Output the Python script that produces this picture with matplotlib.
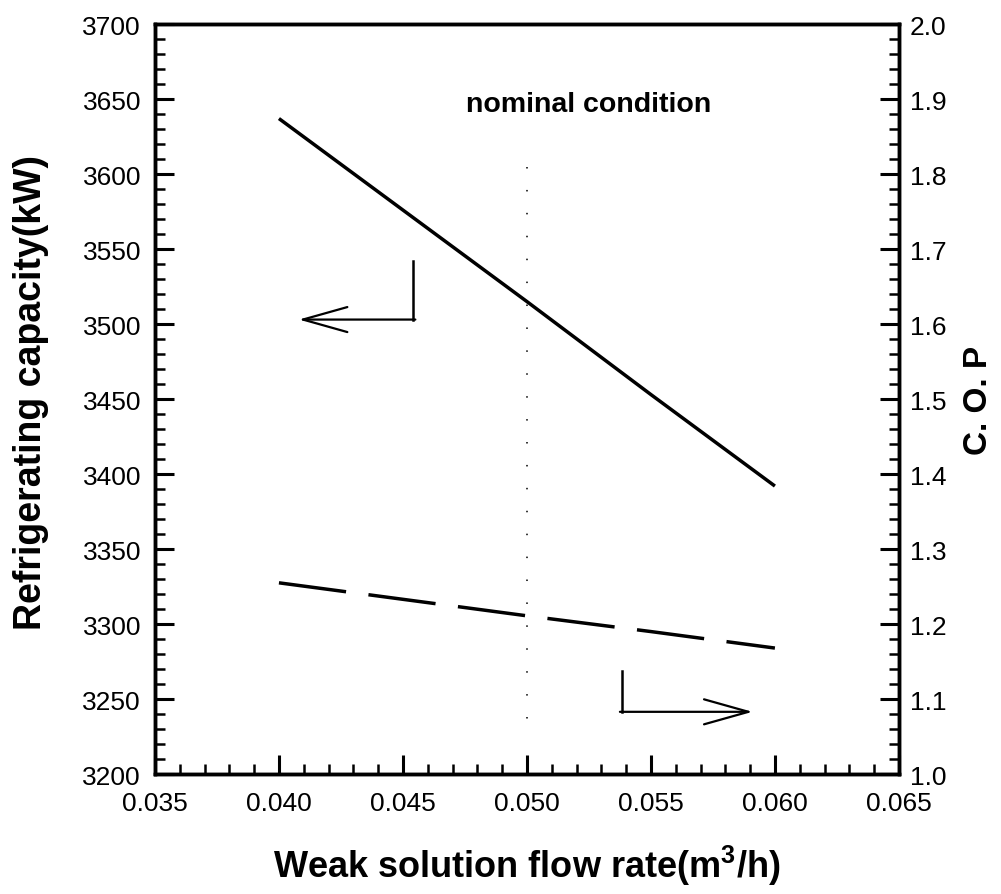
import matplotlib
matplotlib.use("Agg")
import matplotlib.pyplot as plt
from matplotlib.ticker import MultipleLocator, FormatStrFormatter

plt.rcParams['font.family'] = ['Liberation Sans', 'DejaVu Sans']

# data
flow = [0.040, 0.045, 0.050, 0.055, 0.060]
capacity = [3637, 3576, 3515, 3453, 3392]
cop = [1.255, 1.233, 1.211, 1.190, 1.168]
nominal_flow = 0.050

fig = plt.figure(figsize=(10.01, 8.95), dpi=100)
ax = fig.add_axes([0.1548, 0.134, 0.7432, 0.838])
ax2 = ax.twinx()

ax.plot(flow, capacity, color='black', lw=2.5, solid_capstyle='butt')
ax2.plot(flow, cop, color='black', lw=2.5, linestyle=(0, (19.5, 6.5)))

# nominal condition marker
ax.plot([nominal_flow, nominal_flow], [3605, 3233], color='black', lw=1.1,
        linestyle=(0, (1, 14)))
ax.text(0.0525, 3647, 'nominal condition', ha='center', va='center',
        fontsize=20.5, fontweight='bold')

# arrows pointing to each axis
head = '->,head_length=1.6,head_width=0.45'
ax.plot([0.0454, 0.0454], [3542, 3503], color='black', lw=1.8)
ax.annotate('', xy=(0.0408, 3503), xytext=(0.0455, 3503),
            arrowprops=dict(arrowstyle=head, mutation_scale=20,
                            lw=1.6, color='black', shrinkA=0, shrinkB=0),
            annotation_clip=False)
ax2.plot([0.05383, 0.05383], [1.137, 1.083], color='black', lw=1.8)
ax2.annotate('', xy=(0.0591, 1.083), xytext=(0.05375, 1.083),
             arrowprops=dict(arrowstyle=head, mutation_scale=20,
                             lw=1.6, color='black', shrinkA=0, shrinkB=0),
             annotation_clip=False)

ax.set_xlim(0.035, 0.065)
ax.set_ylim(3200, 3700)
ax2.set_ylim(1.0, 2.0)

ax.xaxis.set_major_locator(MultipleLocator(0.005))
ax.xaxis.set_minor_locator(MultipleLocator(0.001))
ax.xaxis.set_major_formatter(FormatStrFormatter('%.3f'))
ax.yaxis.set_major_locator(MultipleLocator(50))
ax.yaxis.set_minor_locator(MultipleLocator(10))
ax2.yaxis.set_major_locator(MultipleLocator(0.1))
ax2.yaxis.set_minor_locator(MultipleLocator(0.02))
ax2.yaxis.set_major_formatter(FormatStrFormatter('%.1f'))

ax.tick_params(axis='both', which='major', direction='in', length=14, width=2.2,
               labelsize=19, top=False, right=False)
ax.tick_params(axis='both', which='minor', direction='in', length=7, width=1.8,
               top=False, right=False)
ax.tick_params(axis='y', pad=10)
ax.tick_params(axis='x', pad=12)
ax2.tick_params(axis='y', which='major', direction='in', length=14, width=2.2,
                labelsize=19, pad=8)
ax2.tick_params(axis='y', which='minor', direction='in', length=7, width=1.8)

for a in (ax, ax2):
    for s in a.spines.values():
        s.set_linewidth(2.5)

ax.set_xlabel('Weak solution flow rate(m$^\\mathregular{3}$/h)', fontsize=26,
              fontweight='bold', labelpad=20)
ax.set_ylabel('Refrigerating capacity(kW)', fontsize=27, fontweight='bold')
ax.yaxis.set_label_coords(-0.142, 0.51)
ax2.set_ylabel('C. O. P', fontsize=24, fontweight='bold', rotation=90,
               labelpad=12)

fig.savefig('out.png', dpi=100)
